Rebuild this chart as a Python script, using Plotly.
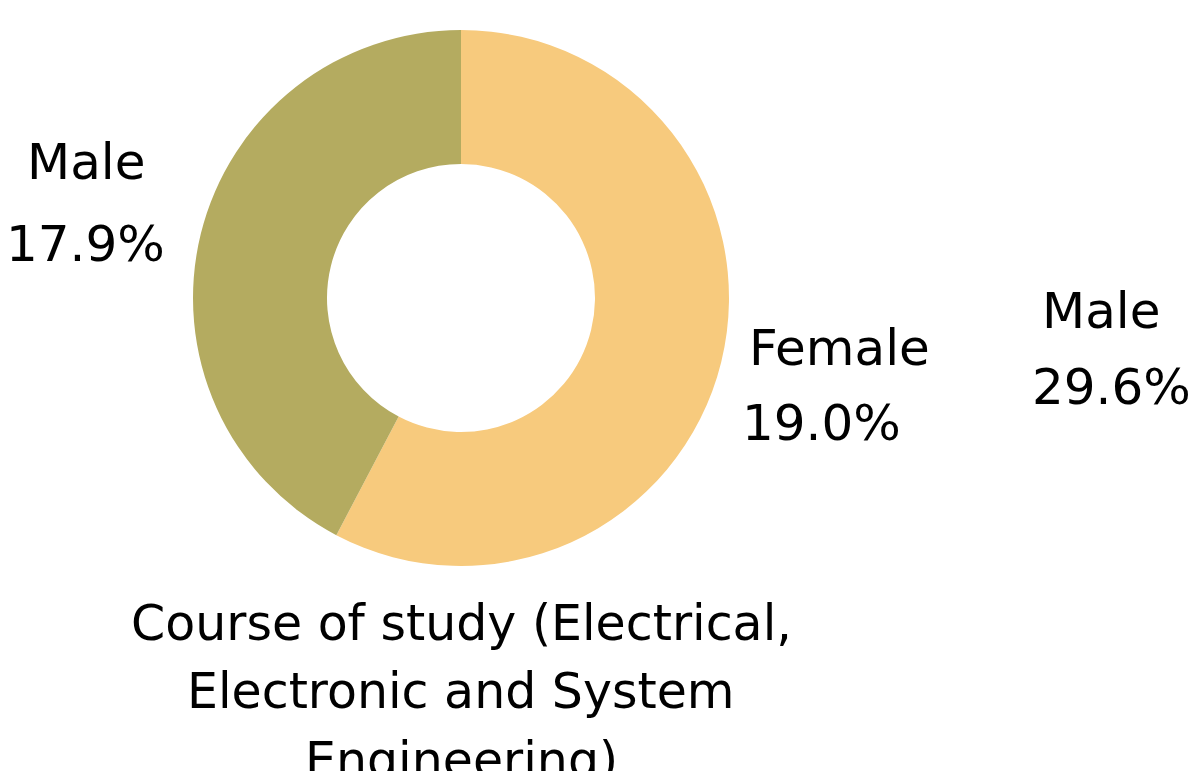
import plotly.graph_objects as go

# Donut slices (share of the ring)
slice_labels = ["Female", "Male"]
slice_values = [57.7, 42.3]
slice_colors = ["#F7CA7D", "#B4AB60"]

# Text labels shown around the donut
label_lines = ["Male", "17.9%", "Female", "19.0%", "Male", "29.6%"]
label_x_px = [86, 86, 839, 821, 1101, 1111]
label_y_px = [162, 244, 348, 423, 311, 387]

title_lines = ["Course of study (Electrical,", "Electronic and System", "Engineering)"]
title_y_px = [623, 691, 760]

W, H = 1196, 771
cx, cy, r = 461, 298, 268

fig = go.Figure()
fig.add_trace(go.Pie(
    labels=slice_labels,
    values=slice_values,
    hole=0.5,
    sort=False,
    direction="clockwise",
    rotation=0,
    marker=dict(colors=slice_colors, line=dict(width=0)),
    textinfo="none",
    showlegend=False,
    domain=dict(x=[(cx - r) / W, (cx + r) / W], y=[(H - cy - r) / H, (H - cy + r) / H]),
))

FONT = "DejaVu Sans"
for t, x, y in zip(label_lines, label_x_px, label_y_px):
    fig.add_annotation(text=t, x=x / W, y=1 - y / H, xref="paper", yref="paper",
                       xanchor="center", yanchor="middle", showarrow=False,
                       font=dict(family=FONT, size=50, color="black"))

for t, y in zip(title_lines, title_y_px):
    fig.add_annotation(text=t, x=cx / W, y=1 - y / H, xref="paper", yref="paper",
                       xanchor="center", yanchor="middle", showarrow=False,
                       font=dict(family=FONT, size=49, color="black"))

fig.update_layout(width=W, height=H, margin=dict(l=0, r=0, t=0, b=0),
                  paper_bgcolor="white", plot_bgcolor="white")
fig.write_html("out.html")
